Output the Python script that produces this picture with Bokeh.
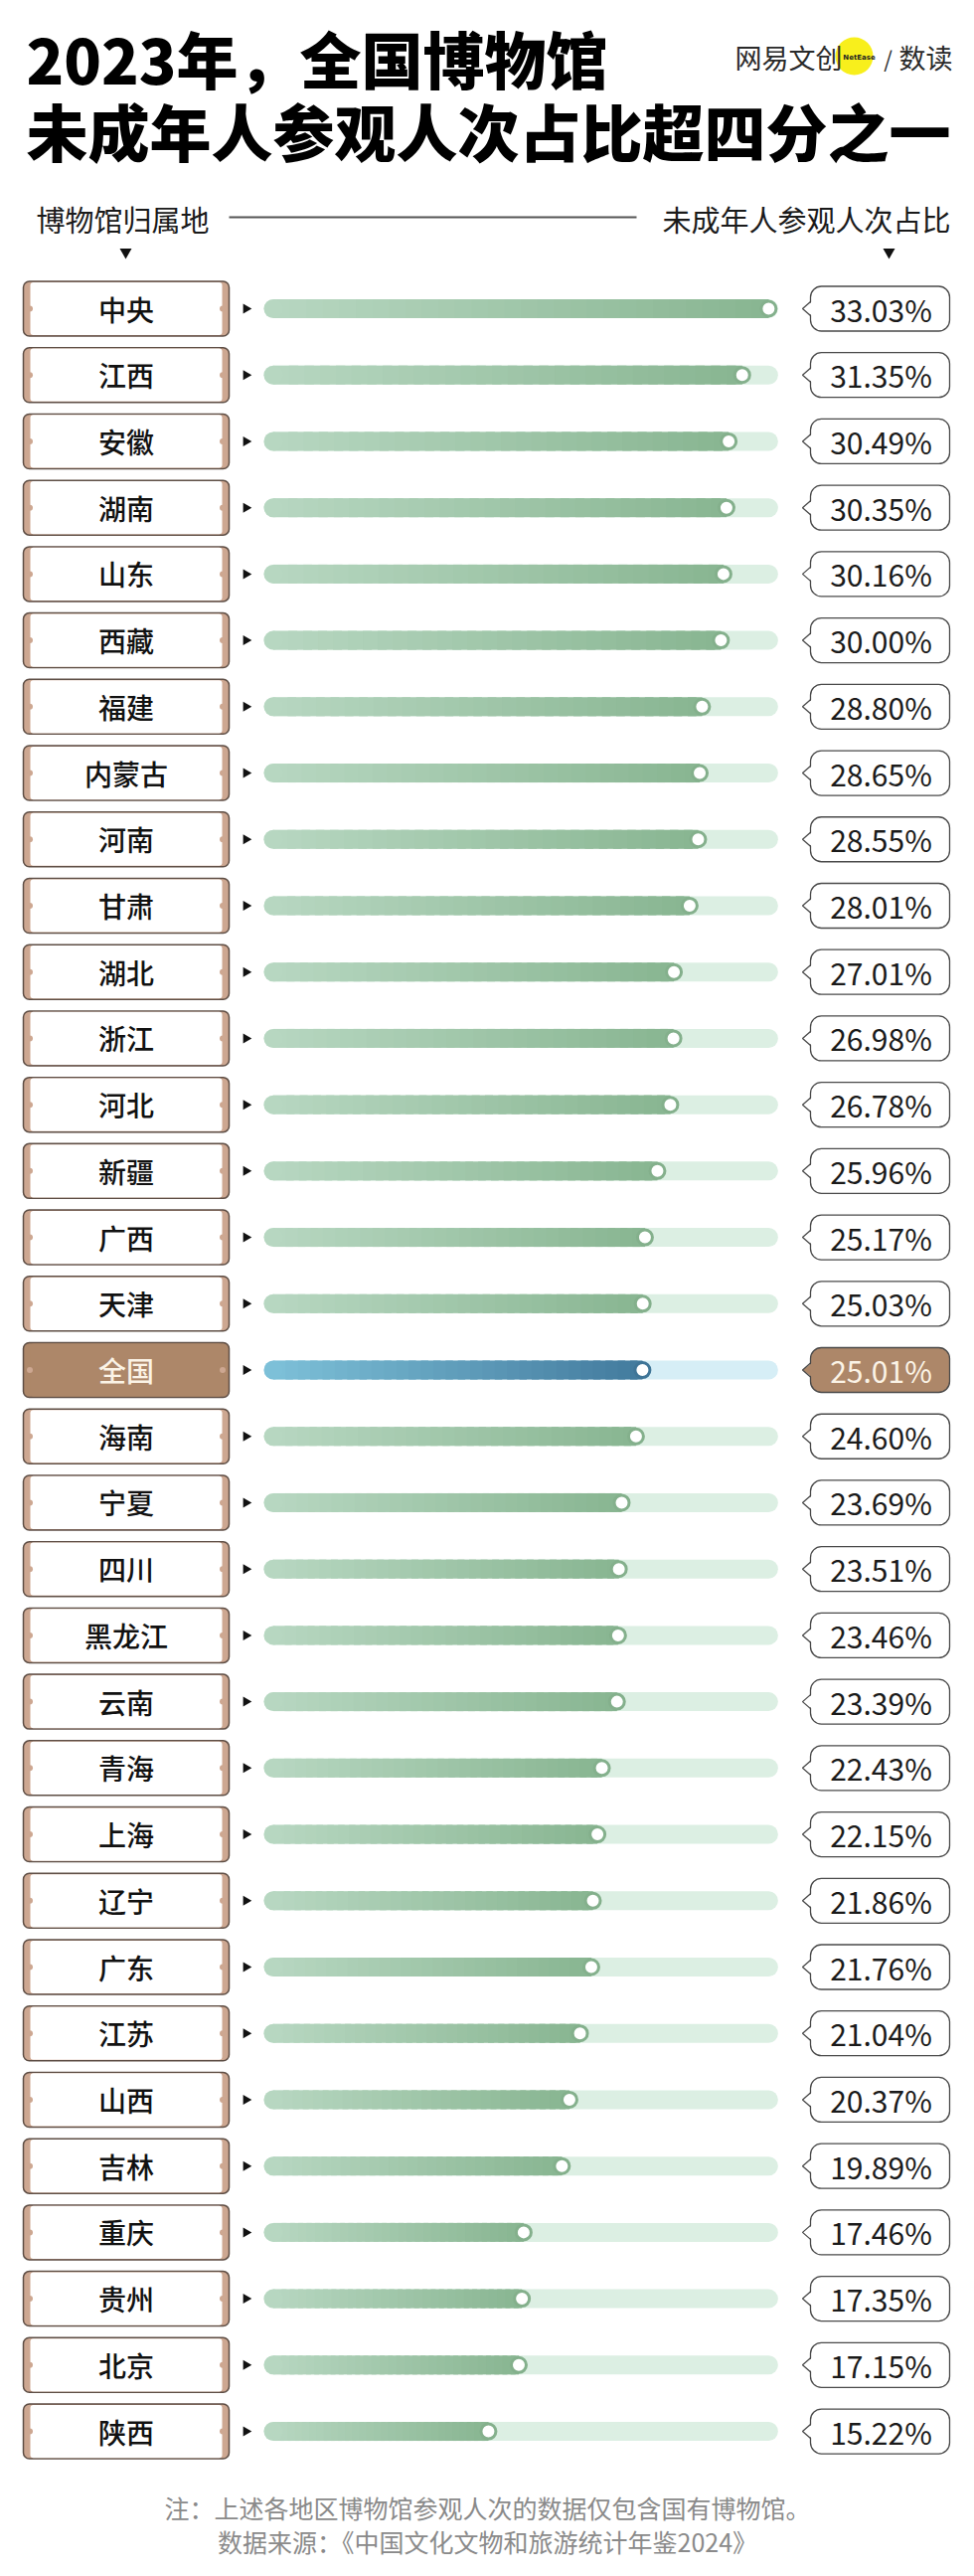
import numpy as np
from bokeh.plotting import figure
from bokeh.models import Range1d
from bokeh.core.properties import value
from bokeh.embed import file_html
from bokeh.resources import INLINE

# ---------------- data ----------------
regions = ["中央", "江西", "安徽", "湖南", "山东", "西藏", "福建", "内蒙古", "河南", "甘肃",
           "湖北", "浙江", "河北", "新疆", "广西", "天津", "全国", "海南", "宁夏", "四川",
           "黑龙江", "云南", "青海", "上海", "辽宁", "广东", "江苏", "山西", "吉林", "重庆",
           "贵州", "北京", "陕西"]
values = [33.03, 31.35, 30.49, 30.35, 30.16, 30.00, 28.80, 28.65, 28.55, 28.01,
          27.01, 26.98, 26.78, 25.96, 25.17, 25.03, 25.01, 24.60, 23.69, 23.51,
          23.46, 23.39, 22.43, 22.15, 21.86, 21.76, 21.04, 20.37, 19.89, 17.46,
          17.35, 17.15, 15.22]
highlight = "全国"
title_lines = ["2023年，全国博物馆", "未成年人参观人次占比超四分之一"]
left_header = "博物馆归属地"
right_header = "未成年人参观人次占比"
notes = ["注：上述各地区博物馆参观人次的数据仅包含国有博物馆。",
         "数据来源：《中国文化文物和旅游统计年鉴2024》"]
logo_left = "网易文创"
logo_mid = "NetEase"
logo_right = "数读"

# ---------------- layout (pixel geometry of the page) ----------------
W, H = 980, 2591
PAGE = 0
PX_PER_PCT = 15.83      # horizontal pixels per percentage point
ZERO_REF = 250          # page x where 0% would sit
ROW_REF0 = 310          # page y of first row centre
ROW_STEP = 66.72        # page pixels between rows


def fx(px):
    return (px - ZERO_REF) / PX_PER_PCT


def fy(py):
    return (py - ROW_REF0) / ROW_STEP


def dx(px):
    return px / PX_PER_PCT


def dy(px):
    return px / ROW_STEP


FONT = value("Noto Sans CJK SC")
LABEL_FONT = value("'Noto Sans CJK SC Medium', 'Noto Sans CJK SC'")
TITLE_FONT = value("'Noto Sans CJK SC Black', 'Noto Sans CJK SC'")

p = figure(width=W, height=H,
           x_range=Range1d(fx(PAGE), fx(PAGE + W)),
           y_range=Range1d(fy(PAGE + H), fy(PAGE)),
           output_backend="svg", toolbar_location=None,
           x_axis_type=None, y_axis_type=None, min_border=0,
           outline_line_color=None, background_fill_color="white",
           border_fill_color="white")
p.grid.visible = False

n = len(regions)
rows = list(range(n))
hl = [r == highlight for r in regions]

GREEN_L = np.array([183, 215, 193])
GREEN_R = np.array([136, 181, 145])
BLUE_L = np.array([125, 192, 216])
BLUE_R = np.array([66, 122, 157])
track_col = ["#d6eef6" if h else "#dcefe3" for h in hl]
dot_col = ["#3f7597" if h else "#84b08c" for h in hl]


def hexc(c):
    c = np.clip(np.round(c), 0, 255).astype(int)
    return "#%02x%02x%02x" % tuple(c)


track_start = fx(274.5)
track_end = max(values)
bar_half = dy(9.5)

# track
p.segment(x0=[track_start] * n, y0=rows, x1=[track_end] * n, y1=rows,
          line_width=19, line_cap="round", line_color=track_col)

# gradient bars
NSEG = 30
L, R, T, B, C = [], [], [], [], []
for i, (v, h) in enumerate(zip(values, hl)):
    cl, cr = (BLUE_L, BLUE_R) if h else (GREEN_L, GREEN_R)
    for j in range(NSEG):
        a = track_start + (v - track_start) * j / NSEG
        b = track_start + (v - track_start) * (j + 1.6) / NSEG
        b = min(b, v)
        t = (j + 0.5) / NSEG
        L.append(a)
        R.append(b)
        T.append(i - bar_half)
        B.append(i + bar_half)
        C.append(hexc(cl + (cr - cl) * t))
p.quad(left=L, right=R, top=T, bottom=B, fill_color=C, line_color=None)
p.scatter(x=[track_start] * n, y=rows, size=19, marker="circle",
          fill_color=[hexc(BLUE_L) if h else hexc(GREEN_L) for h in hl], line_color=None)
# end dots
p.scatter(x=values, y=rows, size=15, marker="circle", fill_color="white",
          line_color=dot_col, line_width=3)

# small arrows
p.scatter(x=[fx(247)] * n, y=rows, marker="triangle", angle=-np.pi / 2, size=10,
          fill_color="#111111", line_color=None)

# ---------------- label boxes (left) ----------------
BROWN = "#cda791"
HL_FILL = "#ad8769"
p.quad(left=[fx(23)] * n, right=[fx(230)] * n,
       top=[i - dy(27.5) for i in rows], bottom=[i + dy(27.5) for i in rows],
       fill_color=[HL_FILL if h else BROWN for h in hl], line_color="#5e4e45", line_width=1.5,
       border_radius=6)
p.quad(left=[fx(30)] * n, right=[fx(223)] * n,
       top=[i - dy(26.6) for i in rows], bottom=[i + dy(26.6) for i in rows],
       fill_color=[HL_FILL if h else "white" for h in hl], line_color=None, border_radius=3)
p.scatter(x=[fx(29.5)] * n + [fx(223.5)] * n, y=rows + rows, size=6, marker="circle",
          fill_color=[BROWN] * (2 * n), line_color=None)
p.text(x=[fx(126.5)] * n, y=rows, text=regions, text_align="center", text_baseline="middle",
       text_font=LABEL_FONT, text_font_size="28px",
       text_color=["#fbf3e6" if h else "#111111" for h in hl])

# ---------------- value callouts (right) ----------------
p.quad(left=[fx(815)] * n, right=[fx(955)] * n,
       top=[i - dy(22.5) for i in rows], bottom=[i + dy(22.5) for i in rows],
       fill_color=[HL_FILL if h else "white" for h in hl], line_color="#4a4a4a", line_width=1.3,
       border_radius=11)
xs = [[fx(816.5), fx(807), fx(816.5)] for _ in rows]
ys = [[i - dy(7), i, i + dy(7)] for i in rows]
p.patches(xs=xs, ys=ys, fill_color=[HL_FILL if h else "white" for h in hl], line_color=None)
xs2 = [[fx(815), fx(807), fx(815)] for _ in rows]
p.multi_line(xs=xs2, ys=ys, line_color="#4a4a4a", line_width=1.3)
p.text(x=[fx(886)] * n, y=rows, text=["%.2f%%" % v for v in values], text_align="center",
       text_baseline="middle", text_font=FONT, text_font_size="30px",
       text_color=["#fbf3e6" if h else "#1a1a1a" for h in hl])

# ---------------- title & headers ----------------
p.text(x=[fx(26)] * 2, y=[fy(57), fy(130)], text=title_lines, text_align="left",
       text_baseline="middle", text_font=TITLE_FONT, text_font_size="62px",
       text_font_style="bold", text_color="#000000")

# logo
p.scatter(x=[fx(859)], y=[fy(56)], size=38, marker="circle", fill_color="#f8ef1c", line_color=None)
p.text(x=[fx(739)], y=[fy(57)], text=[logo_left], text_align="left", text_baseline="middle",
       text_font=FONT, text_font_size="27px", text_color="#2a2a2a")
p.text(x=[fx(864)], y=[fy(57)], text=[logo_mid], text_align="center", text_baseline="middle",
       text_font=value("DejaVu Sans"), text_font_size="7px", text_font_style="bold",
       text_color="#222222")
p.text(x=[fx(893)], y=[fy(57)], text=["/"], text_align="center", text_baseline="middle",
       text_font=FONT, text_font_size="22px", text_color="#2a2a2a")
p.text(x=[fx(904)], y=[fy(57)], text=[logo_right], text_align="left", text_baseline="middle",
       text_font=FONT, text_font_size="27px", text_color="#2a2a2a")

p.text(x=[fx(36)], y=[fy(219)], text=[left_header], text_align="left", text_baseline="middle",
       text_font=FONT, text_font_size="29px", text_color="#1a1a1a")
p.text(x=[fx(956)], y=[fy(219)], text=[right_header], text_align="right", text_baseline="middle",
       text_font=FONT, text_font_size="29px", text_color="#1a1a1a")
p.segment(x0=[fx(230)], y0=[fy(218)], x1=[fx(640)], y1=[fy(218)], line_color="#555555",
          line_width=2)
p.scatter(x=[fx(126), fx(894)], y=[fy(253), fy(253)], marker="inverted_triangle", size=12,
          fill_color="#111111", line_color=None)

# ---------------- notes ----------------
p.text(x=[fx(490)] * 2, y=[fy(2521), fy(2555)], text=notes, text_align="center",
       text_baseline="middle", text_font=FONT, text_font_size="25px", text_color="#8a8a8a")

open("out.html", "w").write(file_html(p, INLINE))
